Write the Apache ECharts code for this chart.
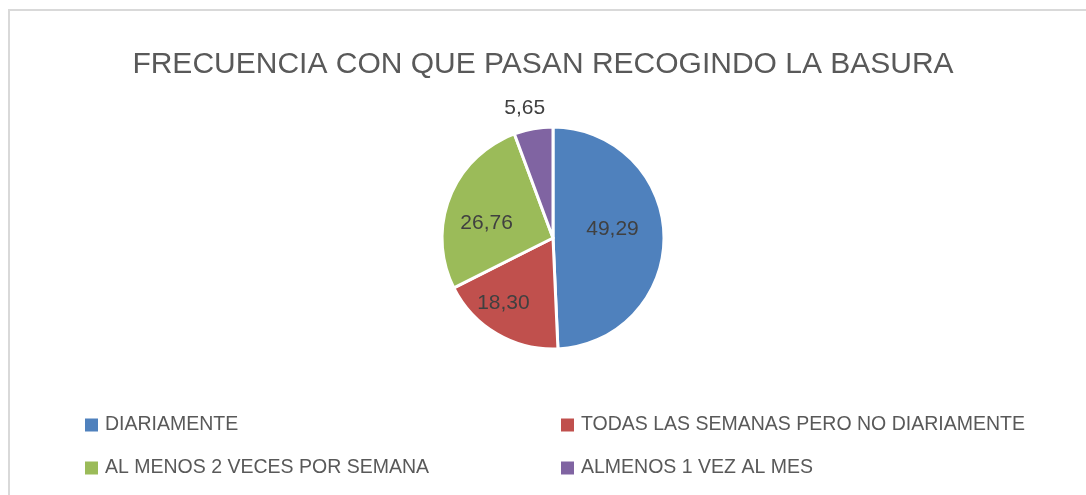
<!DOCTYPE html>
<html lang="es">
<head>
    <meta charset="UTF-8">
    <title>Frecuencia recogida basura</title>
    <script src="https://cdn.jsdelivr.net/npm/echarts@6/dist/echarts.min.js"></script>
    <style>
        body{margin:0;background:#fff;}
        #frame{position:absolute;left:8px;top:9px;width:1100px;height:500px;border-top:2px solid #d9d9d9;border-left:2px solid #d9d9d9;}
        #chart{position:absolute;left:0;top:0;width:1086px;height:495px;}
    </style>
</head>
<body>
    <div id="frame"></div>
    <div id="chart"></div>
    <script type="text/javascript">
        var titulo = 'FRECUENCIA CON QUE PASAN RECOGINDO LA BASURA';
        var categorias = ['DIARIAMENTE', 'TODAS LAS SEMANAS PERO NO DIARIAMENTE', 'AL MENOS 2 VECES POR SEMANA', 'ALMENOS 1 VEZ AL MES'];
        var valores = [49.29, 18.30, 26.76, 5.65];
        var colores = ['#4f81bd', '#c0504d', '#9bbb59', '#8064a2'];

        var datos = [];
        for (var i = 0; i < categorias.length; i++) {
            var d = {name: categorias[i], value: valores[i]};
            // la porcion pequena lleva la etiqueta por fuera
            if (valores[i] < 10) {
                d.label = {position: 'outside'};
                d.labelLine = {show: false, length: 21, length2: 0};
            }
            datos.push(d);
        }

        // ajuste fino de etiquetas (como el "mejor ajuste" de Excel)
        var ajuste = [[1, -7], [-20, 15], [-12, 7], [0, 0]];

        var legendText = {fontSize: 19.5, color: '#595959', fontFamily: 'Liberation Sans', lineHeight: 20, padding: [0, 0, 0, 1]};

        var myChart = echarts.init(document.getElementById('chart'));
        var option = {
            title: {
                text: titulo,
                left: 'center',
                top: 45,
                textStyle: {fontSize: 30, fontWeight: 'normal', color: '#595959', fontFamily: 'Liberation Sans'}
            },
            color: colores,
            legend: [
                {
                    orient: 'vertical', left: 83, top: 415, padding: 0,
                    itemWidth: 15, itemHeight: 15, itemGap: 23, icon: 'rect',
                    data: [categorias[0], categorias[2]],
                    textStyle: legendText
                },
                {
                    orient: 'vertical', left: 559, top: 415, padding: 0,
                    itemWidth: 15, itemHeight: 15, itemGap: 23, icon: 'rect',
                    data: [categorias[1], categorias[3]],
                    textStyle: legendText
                }
            ],
            series: [
                {
                    type: 'pie',
                    center: [553, 238],
                    radius: 111,
                    startAngle: 90,
                    clockwise: true,
                    avoidLabelOverlap: false,
                    itemStyle: {borderColor: '#fff', borderWidth: 3},
                    label: {
                        show: true,
                        position: 'inside',
                        fontSize: 21,
                        color: '#404040',
                        fontFamily: 'Liberation Sans',
                        formatter: function (p) { return p.value.toFixed(2).replace('.', ','); }
                    },
                    labelLayout: function (p) {
                        var a = ajuste[p.dataIndex];
                        if (p.dataIndex === 3) {
                            return {align: 'center', verticalAlign: 'middle'};
                        }
                        return {dx: a[0], dy: a[1]};
                    },
                    emphasis: {scale: false},
                    data: datos
                }
            ]
        };
        myChart.setOption(option);
    </script>
</body>
</html>
